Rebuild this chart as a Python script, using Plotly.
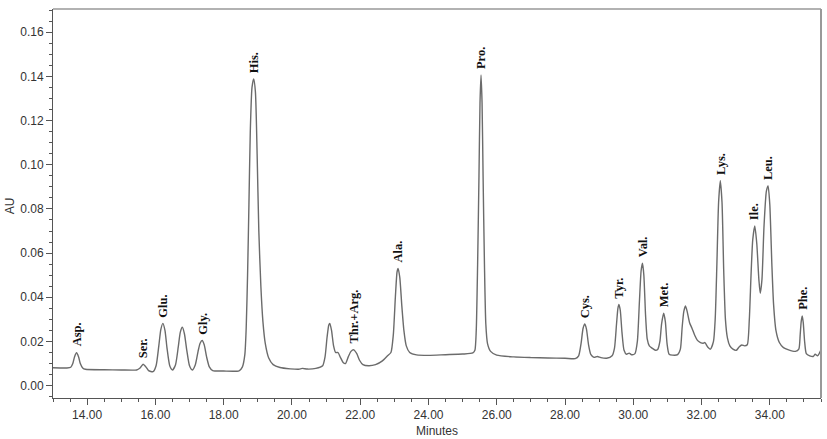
import plotly.graph_objects as go

# Chromatogram trace (minutes, AU)
minutes = [
    13.00, 13.40, 13.52, 13.58, 13.63, 13.69, 13.75, 13.80, 13.87, 13.95,
    14.50, 15.00, 15.45, 15.55, 15.64, 15.72, 15.80, 15.93,
    16.02, 16.10, 16.16, 16.22, 16.28, 16.34, 16.42, 16.50,
    16.59, 16.67, 16.73, 16.79, 16.85, 16.92, 17.00, 17.08,
    17.17, 17.25, 17.31, 17.37, 17.43, 17.50, 17.58, 17.68,
    18.00, 18.45,
    18.55, 18.62, 18.66, 18.70, 18.74, 18.78, 18.83, 18.88, 18.93, 18.98,
    19.03, 19.09, 19.15, 19.22, 19.32, 19.45, 19.65, 19.95, 20.20, 20.30,
    20.45, 20.70, 20.90,
    20.97, 21.03, 21.08, 21.11, 21.16, 21.22, 21.28, 21.35, 21.42, 21.50,
    21.57, 21.65, 21.73, 21.81, 21.90, 21.98, 22.08, 22.25, 22.45, 22.65,
    22.80, 22.90,
    22.97, 23.03, 23.08, 23.11, 23.16, 23.22, 23.28, 23.35, 23.45, 23.65,
    24.00, 24.50, 25.00, 25.30,
    25.36, 25.40, 25.44, 25.48, 25.51, 25.54, 25.57, 25.60, 25.64, 25.68,
    25.73, 25.82, 26.00, 26.50, 27.00, 27.50, 28.00, 28.30,
    28.40, 28.47, 28.53, 28.58, 28.63, 28.69, 28.76, 28.85, 28.95, 29.05,
    29.22, 29.38,
    29.45, 29.51, 29.55, 29.58, 29.62, 29.67, 29.73, 29.80, 29.88, 29.95,
    30.05,
    30.12, 30.18, 30.23, 30.27, 30.31, 30.36, 30.41, 30.47, 30.55, 30.65,
    30.72,
    30.78, 30.83, 30.89, 30.94, 30.99, 31.05, 31.15, 31.30, 31.38,
    31.43, 31.48, 31.53, 31.58, 31.65, 31.72, 31.80, 31.88, 31.97, 32.05,
    32.10, 32.18, 32.26, 32.35,
    32.40, 32.45, 32.50, 32.55, 32.60, 32.65, 32.70, 32.76, 32.83, 32.92,
    33.02, 33.10, 33.18, 33.26, 33.34,
    33.40, 33.45, 33.50, 33.56, 33.62, 33.68, 33.72, 33.77, 33.83, 33.90,
    33.95, 34.00, 34.06, 34.11, 34.18, 34.28, 34.40, 34.55, 34.75, 34.85,
    34.89, 34.92, 34.95, 34.98, 35.02, 35.07, 35.17, 35.27, 35.33, 35.40,
    35.50,
]

absorbance = [
    0.0081, 0.0080, 0.0083, 0.0100, 0.0130, 0.0149, 0.0130, 0.0100, 0.0080, 0.0074,
    0.0072, 0.0071, 0.0071, 0.0080, 0.0097, 0.0085, 0.0068, 0.0063,
    0.0090, 0.0180, 0.0255, 0.0282, 0.0250, 0.0170, 0.0090, 0.0071,
    0.0095, 0.0175, 0.0242, 0.0264, 0.0235, 0.0160, 0.0090, 0.0071,
    0.0095, 0.0155, 0.0192, 0.0204, 0.0185, 0.0130, 0.0085, 0.0068,
    0.0066, 0.0067,
    0.0085, 0.0140, 0.0260, 0.0500, 0.0820, 0.1150, 0.1350, 0.1388, 0.1330, 0.1050,
    0.0700, 0.0450, 0.0290, 0.0190, 0.0125, 0.0095, 0.0082, 0.0076, 0.0074, 0.0078,
    0.0075, 0.0078, 0.0090,
    0.0130, 0.0220, 0.0275, 0.0282, 0.0250, 0.0180, 0.0150, 0.0150, 0.0128, 0.0105,
    0.0100, 0.0130, 0.0155, 0.0162, 0.0145, 0.0115, 0.0095, 0.0090, 0.0095, 0.0112,
    0.0135, 0.0150,
    0.0230, 0.0400, 0.0515, 0.0531, 0.0490, 0.0360, 0.0250, 0.0180, 0.0150, 0.0139,
    0.0137, 0.0140, 0.0143, 0.0148,
    0.0160, 0.0250, 0.0550, 0.0950, 0.1280, 0.1406, 0.1280, 0.0950, 0.0550, 0.0280,
    0.0190, 0.0155, 0.0138, 0.0130, 0.0127, 0.0125, 0.0124, 0.0122,
    0.0135, 0.0190, 0.0260, 0.0279, 0.0255, 0.0185, 0.0140, 0.0128, 0.0132, 0.0127,
    0.0124, 0.0135,
    0.0170, 0.0280, 0.0350, 0.0368, 0.0340, 0.0240, 0.0160, 0.0142, 0.0147, 0.0140,
    0.0145,
    0.0200, 0.0380, 0.0520, 0.0554, 0.0500, 0.0320, 0.0210, 0.0180, 0.0170, 0.0160,
    0.0165,
    0.0200, 0.0280, 0.0328, 0.0290, 0.0190, 0.0142, 0.0138, 0.0140, 0.0165,
    0.0260, 0.0335, 0.0361, 0.0335, 0.0285, 0.0260, 0.0228, 0.0205, 0.0195, 0.0192,
    0.0195, 0.0175, 0.0165, 0.0200,
    0.0300, 0.0550, 0.0830, 0.0928, 0.0830, 0.0520, 0.0300, 0.0215, 0.0180, 0.0165,
    0.0160, 0.0175, 0.0184, 0.0180, 0.0185,
    0.0300, 0.0500, 0.0660, 0.0723, 0.0640, 0.0480, 0.0418, 0.0480, 0.0720, 0.0880,
    0.0904, 0.0820, 0.0550, 0.0370, 0.0250, 0.0195, 0.0172, 0.0162, 0.0155, 0.0165,
    0.0230, 0.0290, 0.0315, 0.0285, 0.0200, 0.0145, 0.0135, 0.0132, 0.0142, 0.0135,
    0.0162,
]

# Peak labels
peak_names = ["Asp.", "Ser.", "Glu.", "Gly.", "His.", "Thr.+Arg.", "Ala.", "Pro.",
              "Cys.", "Tyr.", "Val.", "Met.", "Lys.", "Ile.", "Leu.", "Phe."]
peak_times = [13.69, 15.64, 16.22, 17.37, 18.88, 21.81, 23.11, 25.54,
              28.58, 29.58, 30.27, 30.89, 32.55, 33.56, 33.95, 34.95]
peak_heights = [0.0149, 0.0097, 0.0282, 0.0204, 0.1388, 0.0162, 0.0531, 0.1406,
                0.0279, 0.0368, 0.0554, 0.0328, 0.0928, 0.0723, 0.0904, 0.0315]

fig = go.Figure()
fig.add_trace(go.Scatter(
    x=minutes, y=absorbance, mode="lines",
    line=dict(color="#6b6b6b", width=1.4, shape="spline", smoothing=0.6),
    hoverinfo="skip", showlegend=False,
))

for name, t, h in zip(peak_names, peak_times, peak_heights):
    fig.add_annotation(
        x=t, y=h, text="<b>" + name + "</b>", showarrow=False, textangle=-90,
        xanchor="center", yanchor="bottom", yshift=4,
        font=dict(family="Liberation Serif", size=12.5, color="#111"),
    )

axis_font = dict(family="Liberation Sans", size=12, color="#333")

fig.update_xaxes(
    range=[13.0, 35.5], tick0=0, dtick=2, tickformat=".2f",
    ticks="outside", ticklen=6, tickcolor="#555", tickwidth=1,
    minor=dict(dtick=0.5, ticks="outside", ticklen=3, tickcolor="#555"),
    showline=True, linecolor="#555", linewidth=1,
    showgrid=False, zeroline=False, tickfont=axis_font,
)
fig.update_yaxes(
    range=[-0.0056, 0.1705], tick0=0, dtick=0.02, tickformat=".2f",
    ticks="outside", ticklen=6, tickcolor="#555", tickwidth=1,
    minor=dict(dtick=0.005, ticks="outside", ticklen=3, tickcolor="#555"),
    showline=True, linecolor="#555", linewidth=1,
    showgrid=False, zeroline=False, tickfont=axis_font,
)

# Top and right frame lines
fig.add_shape(type="line", xref="paper", yref="paper", x0=0, x1=1, y0=1, y1=1,
              line=dict(color="#999", width=1.5))
fig.add_shape(type="line", xref="paper", yref="paper", x0=1, x1=1, y0=0, y1=1,
              line=dict(color="#999", width=2))

fig.add_annotation(xref="paper", yref="paper", x=-0.055, y=0.495, text="AU",
                   textangle=-90, showarrow=False, font=axis_font,
                   xanchor="center", yanchor="middle")
fig.add_annotation(xref="paper", yref="paper", x=0.5, y=-0.085, text="Minutes",
                   showarrow=False, font=axis_font,
                   xanchor="center", yanchor="middle")

fig.update_layout(
    width=827, height=439,
    margin=dict(l=53, r=6, t=9, b=41),
    paper_bgcolor="white", plot_bgcolor="white",
)

fig.write_html("out.html")
